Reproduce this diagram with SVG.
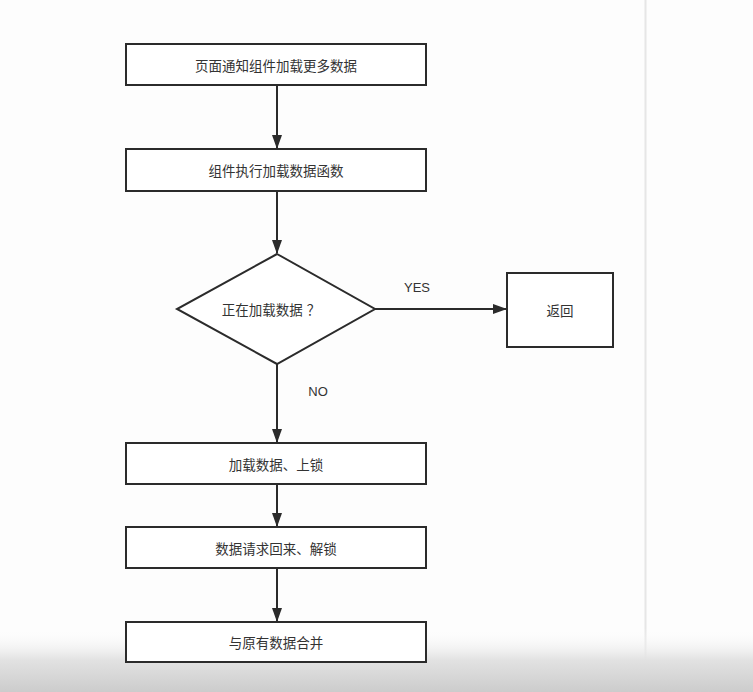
<svg xmlns="http://www.w3.org/2000/svg" width="753" height="692" viewBox="0 0 753 692">
<defs>
<linearGradient id="bottomFade" x1="0" y1="0" x2="0" y2="1">
<stop offset="0" stop-color="#ffffff" stop-opacity="0"/>
<stop offset="0.5" stop-color="#e2e2e2"/>
<stop offset="1" stop-color="#cccccc"/>
</linearGradient>
<marker id="arrow" viewBox="0 0 14 10" refX="13" refY="5" markerWidth="14" markerHeight="10" markerUnits="userSpaceOnUse" orient="auto">
<path d="M0,0 L14,5 L0,10 Z" fill="#2b2b2b"/>
</marker>
</defs>
<style>
.node{fill:#ffffff;stroke:#2b2b2b;stroke-width:2}
.lbl{font-family:"Noto Sans CJK SC","Liberation Sans",sans-serif;font-size:13.5px;fill:#333333;text-anchor:middle;dominant-baseline:central}
.edge{fill:none;stroke:#2b2b2b;stroke-width:2;marker-end:url(#arrow)}
.elbl{font-family:"Liberation Sans","Noto Sans CJK SC",sans-serif;font-size:13px;fill:#333333;text-anchor:middle;dominant-baseline:central}
</style>
<rect x="0" y="0" width="753" height="692" fill="#fdfdfd"/>
<line x1="645.5" y1="0" x2="645.5" y2="692" stroke="#e6e6e6" stroke-width="2"/>
<rect x="0" y="628" width="753" height="64" fill="url(#bottomFade)"/>

<g id="connectors">
<line class="edge" x1="277" y1="85" x2="277" y2="148"/>
<line class="edge" x1="277" y1="191" x2="277" y2="253"/>
<line class="edge" x1="375" y1="309" x2="506" y2="309"/>
<line class="edge" x1="277" y1="364" x2="277" y2="442"/>
<line class="edge" x1="277" y1="484" x2="277" y2="526"/>
<line class="edge" x1="277" y1="568" x2="277" y2="621"/>
<text class="elbl" x="417" y="287">YES</text>
<text class="elbl" x="318" y="391">NO</text>
</g>

<g id="n1">
<rect class="node" x="126" y="44" width="300" height="41"/>
<text class="lbl" x="276" y="65">页面通知组件加载更多数据</text>
</g>
<g id="n2">
<rect class="node" x="126" y="149" width="300" height="42"/>
<text class="lbl" x="276" y="170">组件执行加载数据函数</text>
</g>
<g id="n3">
<polygon class="node" points="277,254 375,309 277,364 177,309"/>
<text class="lbl" x="271" y="309">正在加载数据<tspan dx="4">？</tspan></text>
</g>
<g id="n4">
<rect class="node" x="507" y="273" width="106" height="74"/>
<text class="lbl" x="560" y="310">返回</text>
</g>
<g id="n5">
<rect class="node" x="126" y="443" width="300" height="41"/>
<text class="lbl" x="276" y="464">加载数据、上锁</text>
</g>
<g id="n6">
<rect class="node" x="126" y="527" width="300" height="41"/>
<text class="lbl" x="276" y="548">数据请求回来、解锁</text>
</g>
<g id="n7">
<rect class="node" x="126" y="622" width="300" height="40"/>
<text class="lbl" x="276" y="642">与原有数据合并</text>
</g>
</svg>
